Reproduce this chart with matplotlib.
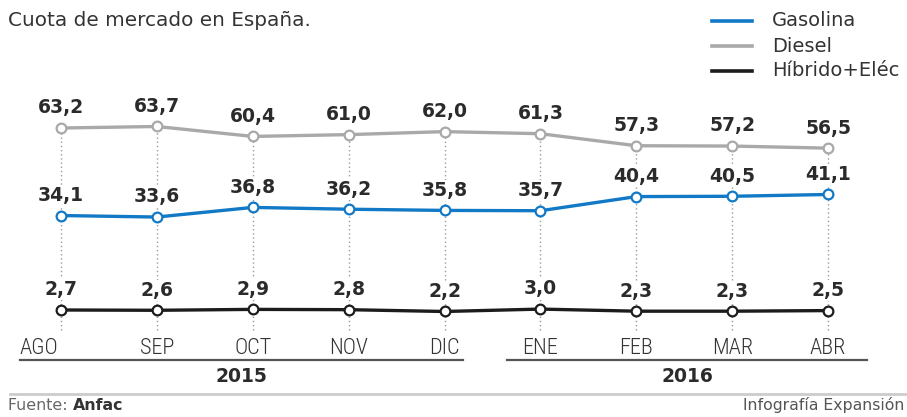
import matplotlib
matplotlib.use("Agg")
import matplotlib.pyplot as plt
from matplotlib.lines import Line2D
from matplotlib import font_manager as fm

# ---- data ----
months = ["AGO", "SEP", "OCT", "NOV", "DIC", "ENE", "FEB", "MAR", "ABR"]
years = ["2015", "2016"]
series_names = ["Gasolina", "Diesel", "Híbrido+Eléc"]
gasolina = [34.1, 33.6, 36.8, 36.2, 35.8, 35.7, 40.4, 40.5, 41.1]
diesel = [63.2, 63.7, 60.4, 61.0, 62.0, 61.3, 57.3, 57.2, 56.5]
hibrido = [2.7, 2.6, 2.9, 2.8, 2.2, 3.0, 2.3, 2.3, 2.5]
title = "Cuota de mercado en España."
source_label = "Fuente: "
source_name = "Anfac"
credit = "Infografía Expansión"

colors = {"Gasolina": "#1279c6", "Diesel": "#a9a9a9", "Híbrido+Eléc": "#1c1c1c"}
W, H = 907, 417

names = {f.name for f in fm.fontManager.ttflist}
NARROW_FAMILY = None
for cand in ["Roboto Condensed", "Liberation Sans Narrow", "Archivo Narrow", "Asap Condensed"]:
    if cand in names:
        NARROW_FAMILY = cand
        break

fig = plt.figure(figsize=(W / 100, H / 100), dpi=100)
ax = fig.add_axes([0, 0, 1, 1])
ax.axis("off")
ax.set_xlim(-61 / 95.9, (W - 61) / 95.9)
ax.set_ylim(63.2 - (H - 128) / 3.008, 63.2 + 128 / 3.008)

def fx(px):
    return px / W

def fy(py):
    return 1 - py / H

def narrow_kw():
    if NARROW_FAMILY:
        return dict(family=[NARROW_FAMILY, "DejaVu Sans"])
    return dict(family="DejaVu Sans", fontstretch="condensed")

x = list(range(len(months)))

for i in x:
    ax.plot([i, i], [-4.0, diesel[i]], linestyle=(0, (1, 2)), color="#9a9a9a",
            lw=1.0, zorder=1)

series = [("Diesel", diesel), ("Gasolina", gasolina), ("Híbrido+Eléc", hibrido)]
for name, vals in series:
    c = colors[name]
    ax.plot(x, vals, color=c, lw=2.4, zorder=3, solid_capstyle="round",
            marker="o", markersize=7, markerfacecolor="white",
            markeredgecolor=c, markeredgewidth=1.6)
    for i, v in enumerate(vals):
        ax.annotate(f"{v:.1f}".replace(".", ","), (i, v), xytext=(0, 14.5),
                    textcoords="offset points", ha="center", va="center",
                    fontsize=13.5, fontweight="bold", color="#2b2b2b",
                    family="DejaVu Sans", zorder=4,
                    bbox=dict(boxstyle="square,pad=0.05", fc="white", ec="none"))

spans = [(20, 463), (507, 867)]

for i, m in enumerate(months):
    if i == 0:
        fig.text(fx(spans[0][0]), fy(348), m, ha="left", va="center",
                 fontsize=16, fontweight="light", color="#333333", **narrow_kw())
    else:
        fig.text(fx(61 + 95.9 * i), fy(348), m, ha="center", va="center",
                 fontsize=16, fontweight="light", color="#333333", **narrow_kw())

for (x0, x1), yr in zip(spans, years):
    fig.add_artist(Line2D([fx(x0), fx(x1)], [fy(360), fy(360)], color="#555555", lw=1.6))
    fig.text(fx((x0 + x1) / 2), fy(377), yr, ha="center", va="center",
             fontsize=13.5, fontweight="bold", color="#2b2b2b", family="DejaVu Sans")

fig.add_artist(Line2D([fx(10), fx(W)], [fy(394), fy(394)], color="#cccccc", lw=2))

fig.text(fx(8), fy(20), title, ha="left", va="center", fontsize=14.4,
         color="#333333", family="DejaVu Sans")

for k, name in enumerate(series_names):
    yy = [21, 46, 71][k]
    fig.add_artist(Line2D([fx(712), fx(752)], [fy(yy), fy(yy)], color=colors[name], lw=2.6))
    fig.text(fx(772), fy(yy), name, ha="left", va="center", fontsize=14,
             color="#333333", family="DejaVu Sans")

t = fig.text(fx(8), fy(405), source_label, ha="left", va="center", fontsize=11.4,
             color="#666666", family="DejaVu Sans")
fig.canvas.draw()
bb = t.get_window_extent()
fig.text(bb.x1 / W, fy(405), source_name, ha="left", va="center", fontsize=11.4,
         fontweight="bold", color="#333333", family="DejaVu Sans")
fig.text(fx(904), fy(405), credit, ha="right", va="center", fontsize=11.3,
         color="#555555", family="DejaVu Sans")

fig.savefig("out.png", dpi=100)
